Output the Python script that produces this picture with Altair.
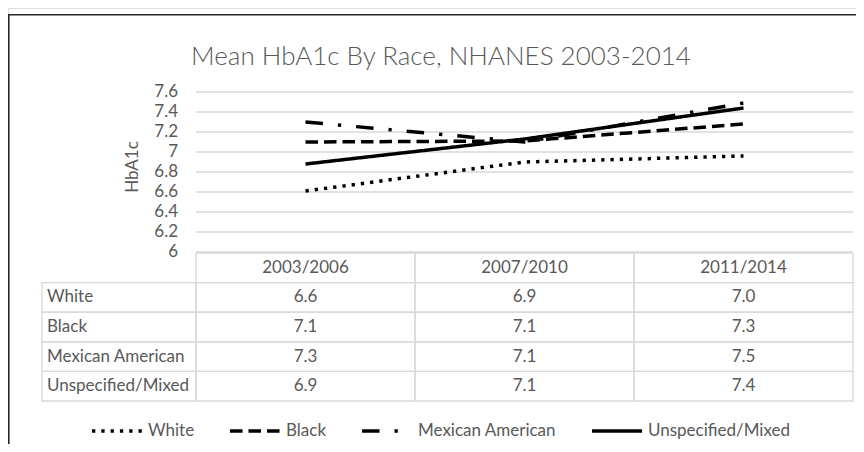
import altair as alt
import pandas as pd

# ---------------- data ----------------
periods = ["2003/2006", "2007/2010", "2011/2014"]
series = ["White", "Black", "Mexican American", "Unspecified/Mixed"]
white = [6.61, 6.90, 6.96]
black = [7.10, 7.11, 7.28]
mexican = [7.30, 7.10, 7.49]
unspecified = [6.88, 7.13, 7.44]
y_ticks = [6.0, 6.2, 6.4, 6.6, 6.8, 7.0, 7.2, 7.4, 7.6]
y_tick_labels = ["6", "6.2", "6.4", "6.6", "6.8", "7", "7.2", "7.4", "7.6"]
dashes = [[3.3, 6], [12.5, 6], [17.5, 15, 3.3, 15], [1, 0]]

title_text = "Mean HbA1c By Race, NHANES 2003-2014"
y_title = "HbA1c"
header_row = "Period"

# ---------------- tables for the library ----------------
rows = []
for s, vals in zip(series, [white, black, mexican, unspecified]):
    for p, v in zip(periods, vals):
        rows.append({"series": s, "row": s, "period": p, "value": v})
df = pd.DataFrame(rows)
ticks_df = pd.DataFrame({"tick": y_ticks, "label": y_tick_labels})
header_df = pd.DataFrame({"row": [header_row] * len(periods), "period": periods})
cells_df = pd.concat([header_df, df[["row", "period"]]], ignore_index=True)
label_df = pd.DataFrame({"row": series})

# ---------------- layout / style ----------------
W, H = 848, 436
GRAY = "#595959"
GRID = "#d9d9d9"
FONT = "Lato"
FS = 17

x_scale = alt.Scale(type="band", domain=periods, range=[188, 845], paddingInner=0, paddingOuter=0)
y_scale = alt.Scale(domain=[6, 7.6], range=[244, 84], nice=False, zero=False)
row_scale = alt.Scale(type="band", domain=[header_row] + series, range=[245, 393],
                      paddingInner=0, paddingOuter=0)

one = alt.Data(values=[{"t": title_text, "y": y_title}])

border_top = alt.Chart(one).mark_rule(color="#262626", strokeWidth=1.6).encode(
    x=alt.value(0), x2=alt.value(W), y=alt.value(6.8))
border_left = alt.Chart(one).mark_rule(color="#262626", strokeWidth=1.6).encode(
    x=alt.value(0.8), y=alt.value(6), y2=alt.value(H))

title = alt.Chart(one).mark_text(fontSize=26, fontWeight=300, color=GRAY, font=FONT,
                                 align="center", baseline="alphabetic").encode(
    x=alt.value(433), y=alt.value(57), text="t:N")

ytitle = alt.Chart(one).mark_text(fontSize=FS, color=GRAY, font=FONT, angle=270,
                                  align="center", baseline="middle").encode(
    x=alt.value(125), y=alt.value(159), text="y:N")

grid = alt.Chart(ticks_df).mark_rule(color=GRID, strokeWidth=1.3).encode(
    y=alt.Y("tick:Q", scale=y_scale, axis=None), x=alt.value(188), x2=alt.value(845))

ylabels = alt.Chart(ticks_df).mark_text(align="right", baseline="middle", fontSize=FS,
                                        color=GRAY, font=FONT).encode(
    y=alt.Y("tick:Q", scale=y_scale, axis=None), x=alt.value(170), text="label:N")

lines = alt.Chart(df).mark_line(color="black", strokeWidth=3.5).encode(
    x=alt.X("period:N", scale=x_scale, axis=None),
    y=alt.Y("value:Q", scale=y_scale, axis=None),
    strokeDash=alt.StrokeDash(
        "series:N",
        scale=alt.Scale(domain=series, range=dashes),
        legend=alt.Legend(title=None, orient="none", legendX=82, legendY=396,
                          direction="horizontal", symbolType="stroke", symbolSize=2500,
                          symbolStrokeWidth=3.5, symbolStrokeColor="black",
                          labelFont=FONT, labelFontSize=FS, labelColor=GRAY,
                          labelOffset=4, columnPadding=28, padding=0),
    ),
)

plot = alt.layer(grid, ylabels, lines)

cells = alt.Chart(cells_df).mark_rect(fill="transparent", stroke=GRID, strokeWidth=1.3).encode(
    x=alt.X("period:N", scale=x_scale, axis=None),
    y=alt.Y("row:N", scale=row_scale, axis=None))

label_cells = alt.Chart(label_df).mark_rect(fill="transparent", stroke=GRID, strokeWidth=1.3).encode(
    x=alt.value(34), x2=alt.value(188),
    y=alt.Y("row:N", scale=row_scale, axis=None))

header_text = alt.Chart(header_df).mark_text(fontSize=FS, color=GRAY, font=FONT,
                                             baseline="middle").encode(
    x=alt.X("period:N", scale=x_scale, axis=None),
    y=alt.Y("row:N", scale=row_scale, axis=None),
    text="period:N")

value_text = alt.Chart(df).mark_text(fontSize=FS, color=GRAY, font=FONT,
                                     baseline="middle").encode(
    x=alt.X("period:N", scale=x_scale, axis=None),
    y=alt.Y("row:N", scale=row_scale, axis=None),
    text=alt.Text("value:Q", format=".1f"))

row_text = alt.Chart(label_df).mark_text(fontSize=FS, color=GRAY, font=FONT,
                                         align="left", baseline="middle").encode(
    x=alt.value(39),
    y=alt.Y("row:N", scale=row_scale, axis=None),
    text="row:N")

table = alt.layer(cells, label_cells, header_text, value_text, row_text)

chart = alt.layer(border_top, border_left, title, ytitle, plot, table).resolve_scale(
    y="independent"
).properties(
    width=W, height=H, padding=0, autosize=alt.AutoSizeParams(type="none")
).configure_view(stroke=None).configure(font=FONT)

chart.save("out.html", embed_options={"renderer": "svg", "actions": False})
